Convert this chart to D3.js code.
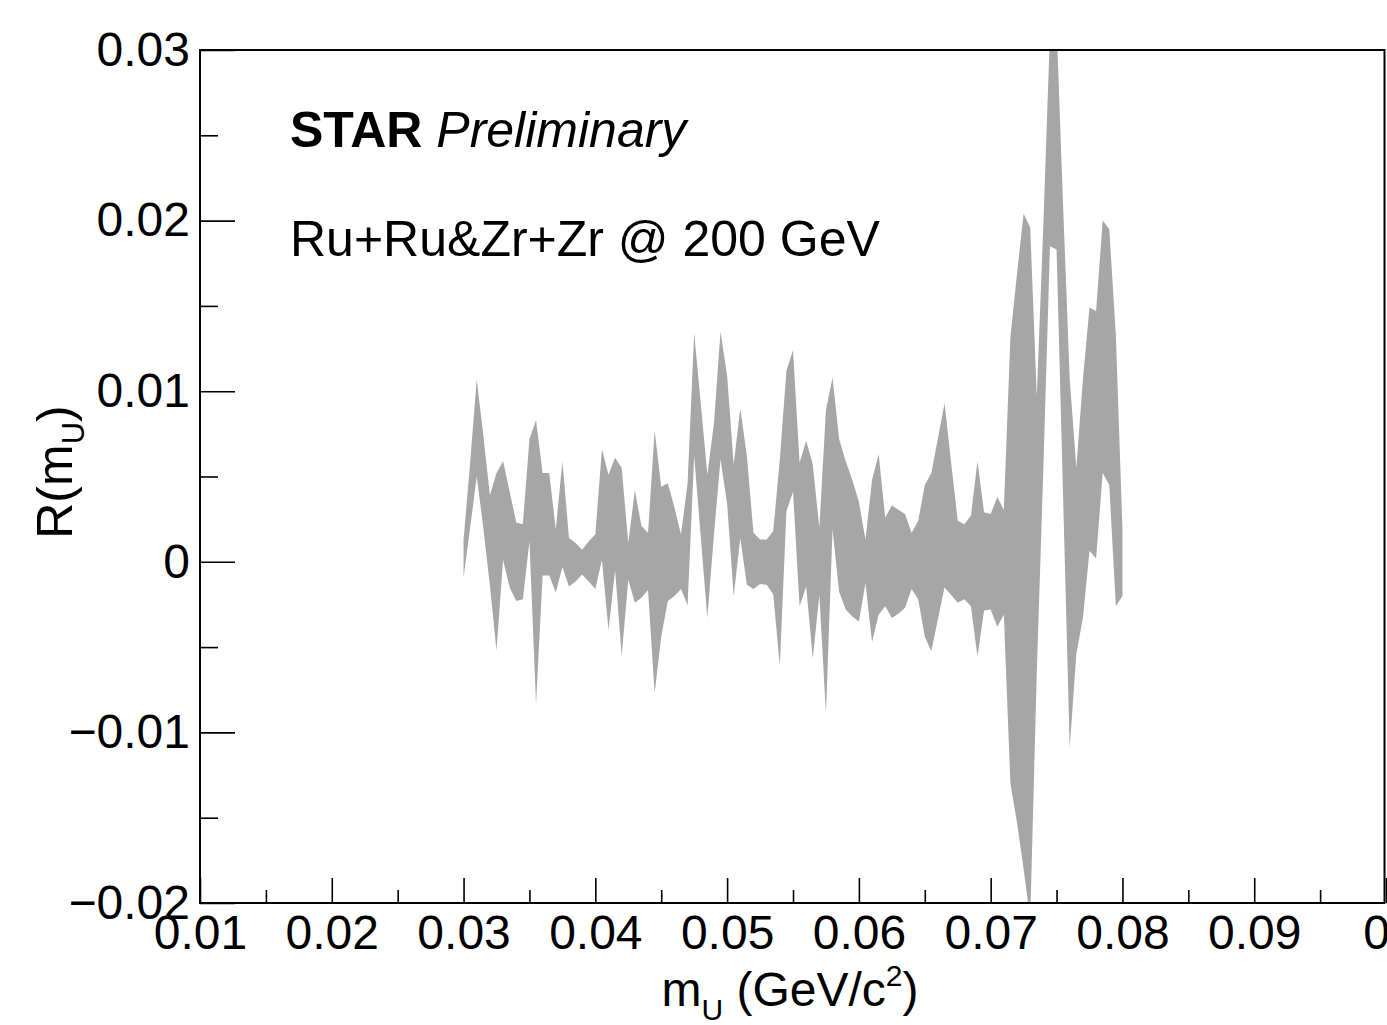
<!DOCTYPE html>
<html><head><meta charset="utf-8">
<script src="https://cdn.jsdelivr.net/npm/d3@7"></script>
<style>
body{margin:0;background:#fff;overflow:hidden;}
svg{display:block;}
text{font-family:"Liberation Sans",Arial,Helvetica,sans-serif;fill:#000;}
</style>
</head><body>
<script>
// ---- data ----
const massU = [
 0.0300,0.0305,0.0310,0.0315,0.0320,0.0325,0.0330,0.0335,0.0340,0.0345,
 0.0350,0.0355,0.0360,0.0365,0.0370,0.0375,0.0380,0.0385,0.0390,0.0395,
 0.0400,0.0405,0.0410,0.0415,0.0420,0.0425,0.0430,0.0435,0.0440,0.0445,
 0.0450,0.0455,0.0460,0.0465,0.0470,0.0475,0.0480,0.0485,0.0490,0.0495,
 0.0500,0.0505,0.0510,0.0515,0.0520,0.0525,0.0530,0.0535,0.0540,0.0545,
 0.0550,0.0555,0.0560,0.0565,0.0570,0.0575,0.0580,0.0585,0.0590,0.0595,
 0.0600,0.0605,0.0610,0.0615,0.0620,0.0625,0.0630,0.0635,0.0640,0.0645,
 0.0650,0.0655,0.0660,0.0665,0.0670,0.0675,0.0680,0.0685,0.0690,0.0695,
 0.0700,0.0705,0.0710,0.0715,0.0720,0.0725,0.0730,0.0735,0.0740,0.0745,
 0.0750,0.0755,0.0760,0.0765,0.0770,0.0775,0.0780,0.0785,0.0790,0.0795,
 0.0800];
const upperBound = [
 0.0013,0.0058,0.0107,0.0074,0.0039,0.0052,0.0059,0.0041,0.0023,0.0022,
 0.0072,0.0083,0.0052,0.0052,0.0019,0.0059,0.0014,0.0011,0.0007,0.0012,
 0.0016,0.0066,0.0051,0.0061,0.0055,0.0011,0.0042,0.0021,0.0017,0.0077,
 0.0044,0.0046,0.0032,0.0016,0.0046,0.0134,0.0093,0.0051,0.0081,0.0135,
 0.0109,0.0057,0.0090,0.0062,0.0017,0.0013,0.0013,0.0018,0.0060,0.0112,
 0.0124,0.0058,0.0071,0.0057,0.0020,0.0089,0.0108,0.0072,0.0059,0.0048,
 0.0035,0.0013,0.0048,0.0063,0.0026,0.0033,0.00305,0.0028,0.0017,0.0024,
 0.0045,0.0052,0.00725,0.0093,0.0058,0.0024,0.0022,0.0027,0.0059,0.0029,
 0.0028,0.0038,0.00305,0.0132,0.0169,0.0204,0.0196,0.0097,0.0198,0.0310,
 0.0315,0.0208,0.0107,0.0055,0.0107,0.0149,0.0147,0.0200,0.0195,0.0133,
 0.0019];
const lowerBound = [
 -0.0009,0.0020,0.0050,0.0020,-0.0014,-0.0052,0.0001,-0.0015,-0.0023,-0.0022,
 0.0012,-0.0083,-0.0008,-0.0008,-0.0018,-0.0003,-0.00145,-0.00115,-0.00075,-0.00115,
 -0.0016,0.0001,-0.0040,-0.0005,-0.0055,-0.00105,-0.0024,-0.0021,-0.00165,-0.0077,
 -0.0044,-0.0023,-0.0020,-0.0016,-0.00255,0.0062,0.00145,-0.0033,0.0016,0.0060,
 0.0034,-0.0020,0.0014,-0.00135,-0.0016,-0.0013,-0.00135,-0.0019,-0.0061,0.00295,
 0.0041,-0.0026,-0.00145,-0.00565,-0.00195,-0.0089,0.0019,-0.00175,-0.0028,-0.0032,
 -0.0035,-0.00125,-0.0047,-0.0031,-0.0026,-0.0033,-0.00305,-0.0027,-0.0016,-0.0022,
 -0.0044,-0.00525,-0.00335,-0.0015,-0.00195,-0.0024,-0.0022,-0.0026,-0.00555,-0.00285,
 -0.0028,-0.0038,-0.0031,-0.0130,-0.0153,-0.0180,-0.0210,-0.0065,0.0055,0.0185,
 0.0183,0.0037,-0.0109,-0.0054,-0.0033,0.00065,0.0002,0.0052,0.0045,-0.0026,
 -0.0020];

const xMajorTicks = [0.01,0.02,0.03,0.04,0.05,0.06,0.07,0.08,0.09,0.1];
const xTickLabels = ["0.01","0.02","0.03","0.04","0.05","0.06","0.07","0.08","0.09","0.1"];
const xMinorTicks = [0.015,0.025,0.035,0.045,0.055,0.065,0.075,0.085,0.095];
const yMajorTicks = [-0.02,-0.01,0,0.01,0.02,0.03];
const yTickLabels = ["\u22120.02","\u22120.01","0","0.01","0.02","0.03"];
const yMinorTicks = [-0.015,-0.005,0.005,0.015,0.025];

const W = 1387, H = 1025;
const L = 200, R = 1386, T = 50, B = 903;

const svg = d3.select("body").append("svg").attr("width", W).attr("height", H);
svg.append("rect").attr("width", W).attr("height", H).attr("fill", "#ffffff");

const x = d3.scaleLinear().domain([0.01, 0.1]).range([L, R]);
const y = d3.scaleLinear().domain([-0.02, 0.03]).range([B, T]);

svg.append("clipPath").attr("id","frameClip")
  .append("rect").attr("x", L).attr("y", T).attr("width", R - L).attr("height", B - T);

const rows = massU.map((m, i) => ({m, lo: lowerBound[i], hi: upperBound[i]}));
const area = d3.area().x(d => x(d.m)).y0(d => y(d.lo)).y1(d => y(d.hi)).curve(d3.curveLinear);
svg.append("path").datum(rows).attr("d", area)
  .attr("fill", "#a6a6a6").attr("stroke", "none").attr("clip-path", "url(#frameClip)");

// axes
const fs = 48;
svg.append("g").attr("transform", `translate(0,${B})`)
  .call(d3.axisBottom(x).tickValues(xMajorTicks).tickFormat((d,i) => xTickLabels[i])
        .tickSize(-25).tickSizeOuter(0).tickPadding(12));
svg.append("g").attr("transform", `translate(0,${B})`)
  .call(d3.axisBottom(x).tickValues(xMinorTicks).tickFormat("").tickSize(-13).tickSizeOuter(0));

svg.append("g").attr("transform", `translate(${L},0)`)
  .call(d3.axisLeft(y).tickValues(yMajorTicks).tickFormat((d,i) => yTickLabels[i])
        .tickSize(-35).tickSizeOuter(0).tickPadding(10));
svg.append("g").attr("transform", `translate(${L},0)`)
  .call(d3.axisLeft(y).tickValues(yMinorTicks).tickFormat("").tickSize(-18).tickSizeOuter(0));

svg.selectAll(".domain").remove();
svg.selectAll(".tick line").attr("stroke", "#000").attr("stroke-width", 1.6);
svg.selectAll(".tick text").attr("font-size", fs).attr("font-family", '"Liberation Sans",Arial,sans-serif').attr("fill","#000");
// the last x label sits slightly right of its tick in the reference (only "0" shows)
svg.selectAll(".tick text").filter(d => d === 0.1).attr("dx", 10);

// frame
svg.append("rect").attr("x", L).attr("y", T).attr("width", R - L - 1.5).attr("height", B - T)
  .attr("fill", "none").attr("stroke", "#000").attr("stroke-width", 2);

// annotations
const t1 = svg.append("text").attr("x", 290).attr("y", 147).attr("font-size", 50);
t1.append("tspan").attr("font-weight", "bold").text("STAR");
t1.append("tspan").attr("font-style", "italic").text(" Preliminary");

svg.append("text").attr("x", 290).attr("y", 256).attr("font-size", 50).text("Ru+Ru&Zr+Zr @ 200 GeV");

// y title
const yt = svg.append("text").attr("transform", "translate(72,472) rotate(-90)")
  .attr("text-anchor", "middle").attr("font-size", 50);
yt.append("tspan").text("R(m");
yt.append("tspan").attr("font-size", 31).attr("dy", 12).text("U");
yt.append("tspan").attr("dy", -12).text(")");

// x title
const xt = svg.append("text").attr("x", 790).attr("y", 1006).attr("text-anchor", "middle").attr("font-size", 48);
xt.append("tspan").text("m");
xt.append("tspan").attr("font-size", 30).attr("dy", 14).text("U");
xt.append("tspan").attr("dy", -14).text(" (GeV/c");
xt.append("tspan").attr("font-size", 30).attr("dy", -20).text("2");
xt.append("tspan").attr("dy", 20).text(")");
</script>
</body></html>
